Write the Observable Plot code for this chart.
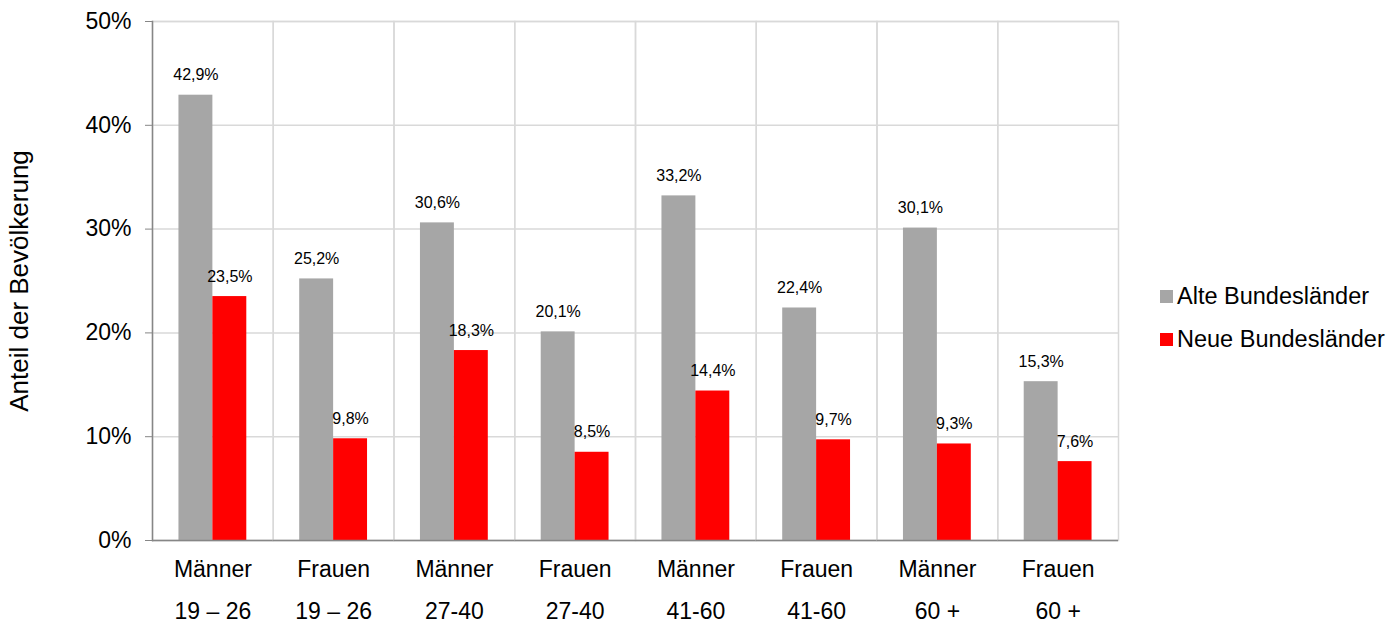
<!DOCTYPE html>
<html><head><meta charset="utf-8">
<script src="https://cdn.jsdelivr.net/npm/d3@7"></script>
<script src="https://cdn.jsdelivr.net/npm/@observablehq/plot@0.6"></script>
<style>
body{margin:0;background:#fff;font-family:"Liberation Sans",Arial,sans-serif;}
#wrap{position:relative;width:1392px;height:625px;}
.leg{position:absolute;left:1160px;font-size:23.5px;color:#000;display:flex;align-items:center;white-space:nowrap;}
.sw{width:13px;height:13px;margin-right:4px;}
</style></head>
<body><div id="wrap"></div>
<script>
const gender = ["Männer","Frauen","Männer","Frauen","Männer","Frauen","Männer","Frauen"];
const ages = ["19 – 26","19 – 26","27-40","27-40","41-60","41-60","60 +","60 +"];
const series = ["Alte Bundesländer","Neue Bundesländer"];
const alte = [42.9,25.2,30.6,20.1,33.2,22.4,30.1,15.3];
const neue = [23.5,9.8,18.3,8.5,14.4,9.7,9.3,7.6];
const yTicks = [0,10,20,30,40,50];
const colors = ["#a6a6a6","#ff0000"];

const cats = gender.map((g,i)=>g+"\n"+ages[i]);
const data = cats.flatMap((c,i)=>[{cat:c,s:series[0],v:alte[i]},{cat:c,s:series[1],v:neue[i]}]);

const chart = Plot.plot({
  width:1392, height:625, marginLeft:152, marginRight:274, marginTop:21, marginBottom:85,
  style:{fontFamily:"'Liberation Sans',Arial,sans-serif", background:"#fff", color:"#000"},
  fx:{domain:cats, padding:0, round:false, label:null},
  x:{domain:series, paddingInner:0, paddingOuter:0.78, round:false, axis:null},
  y:{domain:[0,50], axis:null},
  color:{domain:series, range:colors},
  marks:[
    Plot.gridY(yTicks,{stroke:"#d9d9d9",strokeOpacity:1,strokeWidth:1.5}),
    Plot.frame({stroke:"#d9d9d9",strokeWidth:1.5}),
    Plot.barY(data,{fx:"cat",x:"s",y:"v",fill:"s"}),
    Plot.text(data,{fx:"cat",x:"s",y:"v",text:d=>d.v.toFixed(1).replace(".",",")+"%",lineAnchor:"bottom",dy:-15,fontSize:16,fill:"#000"}),
    Plot.ruleY([0],{stroke:"#868686",strokeWidth:1.5}),
    Plot.frame({anchor:"left",facetAnchor:"left",stroke:"#868686",strokeWidth:1.5}),
    Plot.axisY(yTicks,{tickFormat:d=>d+"%",fontSize:23,tickSize:7,tickPadding:14,stroke:"#868686",fill:"#000",label:null}),
    Plot.axisY({ticks:[],fontSize:26,fill:"#000",label:"Anteil der Bevölkerung",labelArrow:"none",labelAnchor:"center",labelOffset:143}),
    Plot.axisFx({anchor:"bottom",fontSize:23,tickSize:0,tickPadding:6,lineHeight:1.85,label:null,fill:"#000"})
  ]
});
const wrap = document.getElementById("wrap");
wrap.appendChild(chart);
series.forEach((s,i)=>{
  const d=document.createElement("div");
  d.className="leg";
  d.style.top=(283+i*43)+"px";
  d.innerHTML=`<span class="sw" style="background:${colors[i]}"></span>${s}`;
  wrap.appendChild(d);
});
</script></body></html>
